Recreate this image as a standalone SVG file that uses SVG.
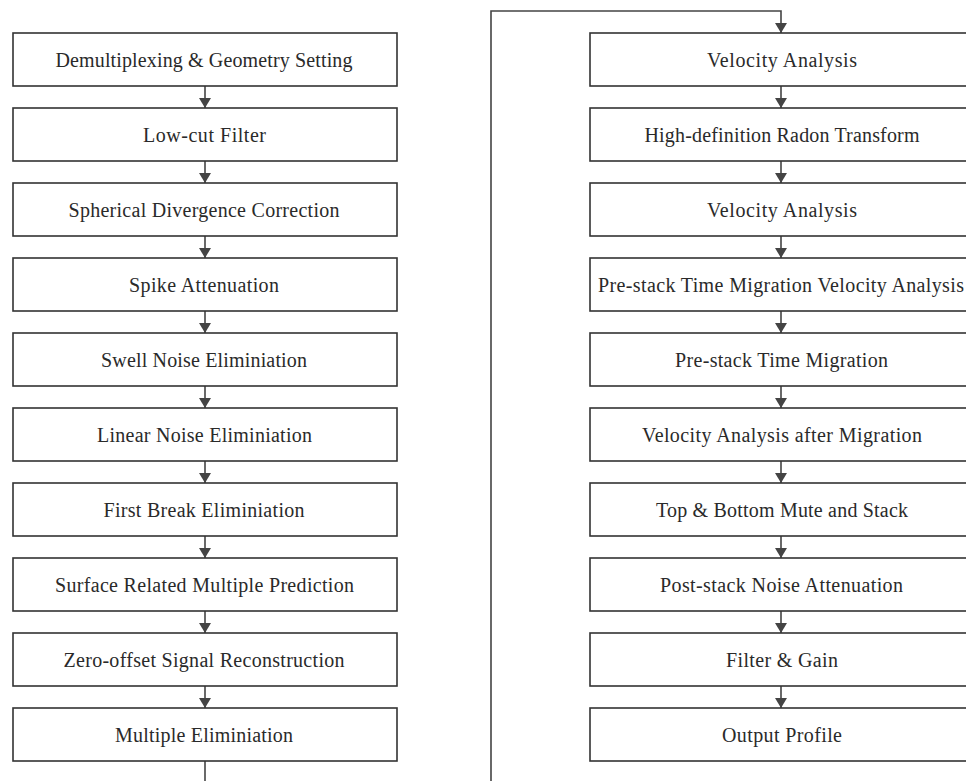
<svg xmlns="http://www.w3.org/2000/svg" width="966" height="781" viewBox="0 0 966 781">
<style>
.box{fill:#fff;stroke:#333;stroke-width:1.6}
.t{font-family:"Liberation Serif","DejaVu Serif",serif;font-size:20px;fill:#2a2a2a;text-anchor:middle}
.c{fill:none;stroke:#444;stroke-width:1.6}
</style>
<defs>
<marker id="ah" markerWidth="10" markerHeight="12" refX="10" refY="6" orient="auto" markerUnits="userSpaceOnUse" viewBox="0 0 10 12">
<path d="M0,0 L10,6 L0,12 Z" fill="#444"/>
</marker>
</defs>
<rect width="966" height="781" fill="#fff"/>
<g id="connectors">
<path class="c" d="M205,86 V108" marker-end="url(#ah)"/>
<path class="c" d="M205,161 V183" marker-end="url(#ah)"/>
<path class="c" d="M205,236 V258" marker-end="url(#ah)"/>
<path class="c" d="M205,311 V333" marker-end="url(#ah)"/>
<path class="c" d="M205,386 V408" marker-end="url(#ah)"/>
<path class="c" d="M205,461 V483" marker-end="url(#ah)"/>
<path class="c" d="M205,536 V558" marker-end="url(#ah)"/>
<path class="c" d="M205,611 V633" marker-end="url(#ah)"/>
<path class="c" d="M205,686 V708" marker-end="url(#ah)"/>
<path class="c" d="M205,761 V781"/>
<path class="c" d="M491,781 V11 H781 V33" marker-end="url(#ah)"/>
<path class="c" d="M781,86 V108" marker-end="url(#ah)"/>
<path class="c" d="M781,161 V183" marker-end="url(#ah)"/>
<path class="c" d="M781,236 V258" marker-end="url(#ah)"/>
<path class="c" d="M781,311 V333" marker-end="url(#ah)"/>
<path class="c" d="M781,386 V408" marker-end="url(#ah)"/>
<path class="c" d="M781,461 V483" marker-end="url(#ah)"/>
<path class="c" d="M781,536 V558" marker-end="url(#ah)"/>
<path class="c" d="M781,611 V633" marker-end="url(#ah)"/>
<path class="c" d="M781,686 V708" marker-end="url(#ah)"/>
</g>
<g id="n1"><rect class="box" x="13" y="33" width="384" height="53"/><text class="t" x="204" y="67" textLength="297" lengthAdjust="spacing">Demultiplexing &amp; Geometry Setting</text></g>
<g id="n2"><rect class="box" x="13" y="108" width="384" height="53"/><text class="t" x="204.5" y="142" textLength="123" lengthAdjust="spacing">Low-cut Filter</text></g>
<g id="n3"><rect class="box" x="13" y="183" width="384" height="53"/><text class="t" x="204" y="217" textLength="271" lengthAdjust="spacing">Spherical Divergence Correction</text></g>
<g id="n4"><rect class="box" x="13" y="258" width="384" height="53"/><text class="t" x="204" y="292" textLength="150" lengthAdjust="spacing">Spike Attenuation</text></g>
<g id="n5"><rect class="box" x="13" y="333" width="384" height="53"/><text class="t" x="204" y="367" textLength="206" lengthAdjust="spacing">Swell Noise Eliminiation</text></g>
<g id="n6"><rect class="box" x="13" y="408" width="384" height="53"/><text class="t" x="204.5" y="442" textLength="215" lengthAdjust="spacing">Linear Noise Eliminiation</text></g>
<g id="n7"><rect class="box" x="13" y="483" width="384" height="53"/><text class="t" x="204" y="517" textLength="201" lengthAdjust="spacing">First Break Eliminiation</text></g>
<g id="n8"><rect class="box" x="13" y="558" width="384" height="53"/><text class="t" x="204.5" y="592" textLength="299" lengthAdjust="spacing">Surface Related Multiple Prediction</text></g>
<g id="n9"><rect class="box" x="13" y="633" width="384" height="53"/><text class="t" x="204" y="667" textLength="281" lengthAdjust="spacing">Zero-offset Signal Reconstruction</text></g>
<g id="n10"><rect class="box" x="13" y="708" width="384" height="53"/><text class="t" x="204" y="742" textLength="178" lengthAdjust="spacing">Multiple Eliminiation</text></g>
<g id="m1"><rect class="box" x="590" y="33" width="384" height="53"/><text class="t" x="782" y="67" textLength="150" lengthAdjust="spacing">Velocity Analysis</text></g>
<g id="m2"><rect class="box" x="590" y="108" width="384" height="53"/><text class="t" x="782" y="142" textLength="275" lengthAdjust="spacing">High-definition Radon Transform</text></g>
<g id="m3"><rect class="box" x="590" y="183" width="384" height="53"/><text class="t" x="782" y="217" textLength="150" lengthAdjust="spacing">Velocity Analysis</text></g>
<g id="m4"><rect class="box" x="590" y="258" width="384" height="53"/><text class="t" x="781" y="292" textLength="366" lengthAdjust="spacing">Pre-stack Time Migration Velocity Analysis</text></g>
<g id="m5"><rect class="box" x="590" y="333" width="384" height="53"/><text class="t" x="781.5" y="367" textLength="213" lengthAdjust="spacing">Pre-stack Time Migration</text></g>
<g id="m6"><rect class="box" x="590" y="408" width="384" height="53"/><text class="t" x="782" y="442" textLength="280" lengthAdjust="spacing">Velocity Analysis after Migration</text></g>
<g id="m7"><rect class="box" x="590" y="483" width="384" height="53"/><text class="t" x="782" y="517" textLength="252" lengthAdjust="spacing">Top &amp; Bottom Mute and Stack</text></g>
<g id="m8"><rect class="box" x="590" y="558" width="384" height="53"/><text class="t" x="781.5" y="592" textLength="243" lengthAdjust="spacing">Post-stack Noise Attenuation</text></g>
<g id="m9"><rect class="box" x="590" y="633" width="384" height="53"/><text class="t" x="782" y="667" textLength="112" lengthAdjust="spacing">Filter &amp; Gain</text></g>
<g id="m10"><rect class="box" x="590" y="708" width="384" height="53"/><text class="t" x="782" y="742" textLength="120" lengthAdjust="spacing">Output Profile</text></g>
</svg>
